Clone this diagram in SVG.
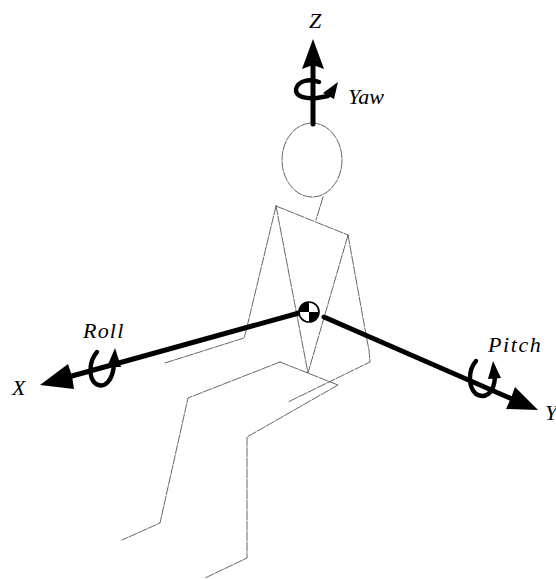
<svg xmlns="http://www.w3.org/2000/svg" width="556" height="579" viewBox="0 0 556 579">
  <style>
    .body { fill: none; stroke: #555; stroke-width: 0.9; stroke-linejoin: round; stroke-linecap: round; stroke-dasharray: 9 1.5; }
    .axis { fill: none; stroke: #000; stroke-width: 5; stroke-linecap: round; }
    .rot { fill: none; stroke: #000; stroke-width: 4.4; stroke-linecap: round; stroke-linejoin: round; }
    .head { fill: #000; stroke: none; }
    .lbl { font-family: "Liberation Serif", "Times New Roman", serif; font-style: italic; font-size: 22px; fill: #000; }
  </style>
  <rect width="556" height="579" fill="#fff"/>

  <!-- seated figure -->
  <g id="figure">
    <ellipse id="head" class="body" cx="312" cy="160" rx="30" ry="37"/>
    <polyline id="neck" class="body" points="323,197 316,220"/>
    <polyline id="shoulders" class="body" points="276,206 348,235"/>
    <polyline id="torso" class="body" points="276,206 308,373 348,235"/>
    <polyline id="left-arm" class="body" points="276,206 246,331 244,338 165,363"/>
    <polyline id="right-arm" class="body" points="348,235 367,340 369,350 370,362 288,402"/>
    <polyline id="hip" class="body" points="280,362 338,385"/>
    <polyline id="left-leg" class="body" points="280,362 188,398 160,523 122,540"/>
    <polyline id="right-leg" class="body" points="338,385 247,437 247,558 205,578"/>
  </g>

  <!-- body axes -->
  <g id="connectors">
    <!-- Z axis -->
    <g id="z-axis">
      <line class="axis" x1="313" y1="124" x2="313" y2="64" stroke-width="4.5"/>
      <polygon class="head" points="313,39 324,69 313,65 302,69"/>
    </g>
    <!-- X axis -->
    <g id="x-axis">
      <line class="axis" x1="299" y1="313" x2="72" y2="376" stroke-width="5"/>
      <polygon class="head" points="40,385 68,364 72,376 74,389"/>
    </g>
    <!-- Y axis -->
    <g id="y-axis">
      <line class="axis" x1="324" y1="317" x2="512" y2="399" stroke-width="5.5"/>
      <polygon class="head" points="538,410 515,387 511,398 506,409"/>
    </g>
  </g>

  <!-- centre of gravity marker -->
  <g id="cg">
    <circle cx="309" cy="312" r="10" fill="#fff" stroke="#000" stroke-width="1.6"/>
    <path d="M309,312 L299,312 A10,10 0 0 1 309,302 Z" fill="#000"/>
    <path d="M309,312 L319,312 A10,10 0 0 1 309,322 Z" fill="#000"/>
  </g>

  <!-- rotation symbols -->
  <g id="yaw">
    <path class="rot" d="M319,82 C309,78 298,81 296,89 C295,97 306,99 317,98 L328,96"/>
    <polygon class="head" points="323,93 338,82 334,99"/>
    <text class="lbl" x="348" y="104">Yaw</text>
  </g>
  <g id="roll">
    <path class="rot" d="M97,352 C89,361 88,378 96,384 C105,389 113,380 114,364"/>
    <polygon class="head" points="107,367 115,348 121,367"/>
    <text class="lbl" x="83" y="338" letter-spacing="1.2">Roll</text>
  </g>
  <g id="pitch">
    <path class="rot" d="M476,361 C468,370 468,387 476,394 C485,399 494,394 495,377"/>
    <polygon class="head" points="488,379 493,361 501,378"/>
    <text class="lbl" x="488" y="352" letter-spacing="1.6">Pitch</text>
  </g>

  <!-- axis labels -->
  <text id="label-z" class="lbl" x="309" y="28">Z</text>
  <text id="label-x" class="lbl" x="12" y="395">X</text>
  <text id="label-y" class="lbl" x="545" y="420">Y</text>
</svg>
